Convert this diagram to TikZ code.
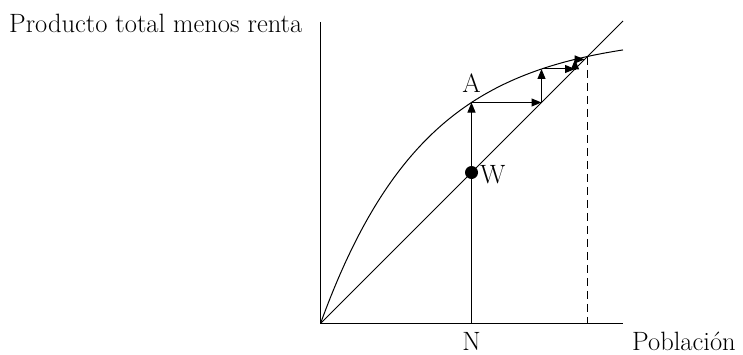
\documentclass[tikz,border=0pt]{standalone}
\usepackage{fontspec}
\usetikzlibrary{arrows.meta}
\begin{document}
\begin{tikzpicture}[x=1pt,y=1pt,
  lbl/.style={inner sep=0pt,font=\fontsize{26.5}{31}\selectfont},
  thin line/.style={line width=1pt},
  arr/.style={line width=1pt,-{Triangle[length=10pt,width=8pt]}},
  dashline/.style={line width=1pt,dash pattern=on 8pt off 5pt}]
\useasboundingbox (0,0) rectangle (743,354);
\begin{scope}[shift={(320.5,30.5)}]
  \coordinate (O) at (0,0);
  \coordinate (Ytop) at (0,301.5);
  \coordinate (Xend) at (302.5,0);
  \coordinate (Lend) at (302.5,302.5);
  \coordinate (N) at (151,0);
  \coordinate (W) at (151,151);
  \coordinate (A) at (151,221.0);
  \coordinate (B) at (221,221.0);
  \coordinate (C) at (221,254.5);
  \coordinate (D) at (254.5,254.5);
  \coordinate (E) at (254.5,264.1);
  \coordinate (F) at (264.1,264.1);
  \coordinate (Q) at (266.7,266.7);
  \coordinate (Qb) at (266.7,0);
  % axes
  \draw[thin line] (Ytop) -- (O) -- (Xend);
  % 45-degree line
  \draw[thin line] (O) -- (Lend);
  % curve
  \draw[thin line] plot[domain=0:302.5,samples=120] (\x,{289.8*(1-exp(-\x/105))});
  % dashed
  \draw[dashline] (Q) -- (Qb);
  % staircase
  \draw[arr] (N) -- (A);
  \draw[arr] (A) -- (B);
  \draw[arr] (B) -- (C);
  \draw[arr] (C) -- (D);
  \draw[arr] (D) -- (E);
  \draw[arr] (E) -- (F);
  % dot
  \fill (W) circle (6.5);
\end{scope}
\node[lbl,anchor=base west] (ylab) at (9,321.7) {Producto total menos renta};
\node[lbl,anchor=base west] (xlab) at (632,4) {Población};
\node[lbl,anchor=base] (nlab) at (471.5,4) {N};
\node[lbl,anchor=base] (alab) at (471.5,261) {A};
\node[lbl,anchor=base west] (wlab) at (480,171) {W};
\end{tikzpicture}
\end{document}
